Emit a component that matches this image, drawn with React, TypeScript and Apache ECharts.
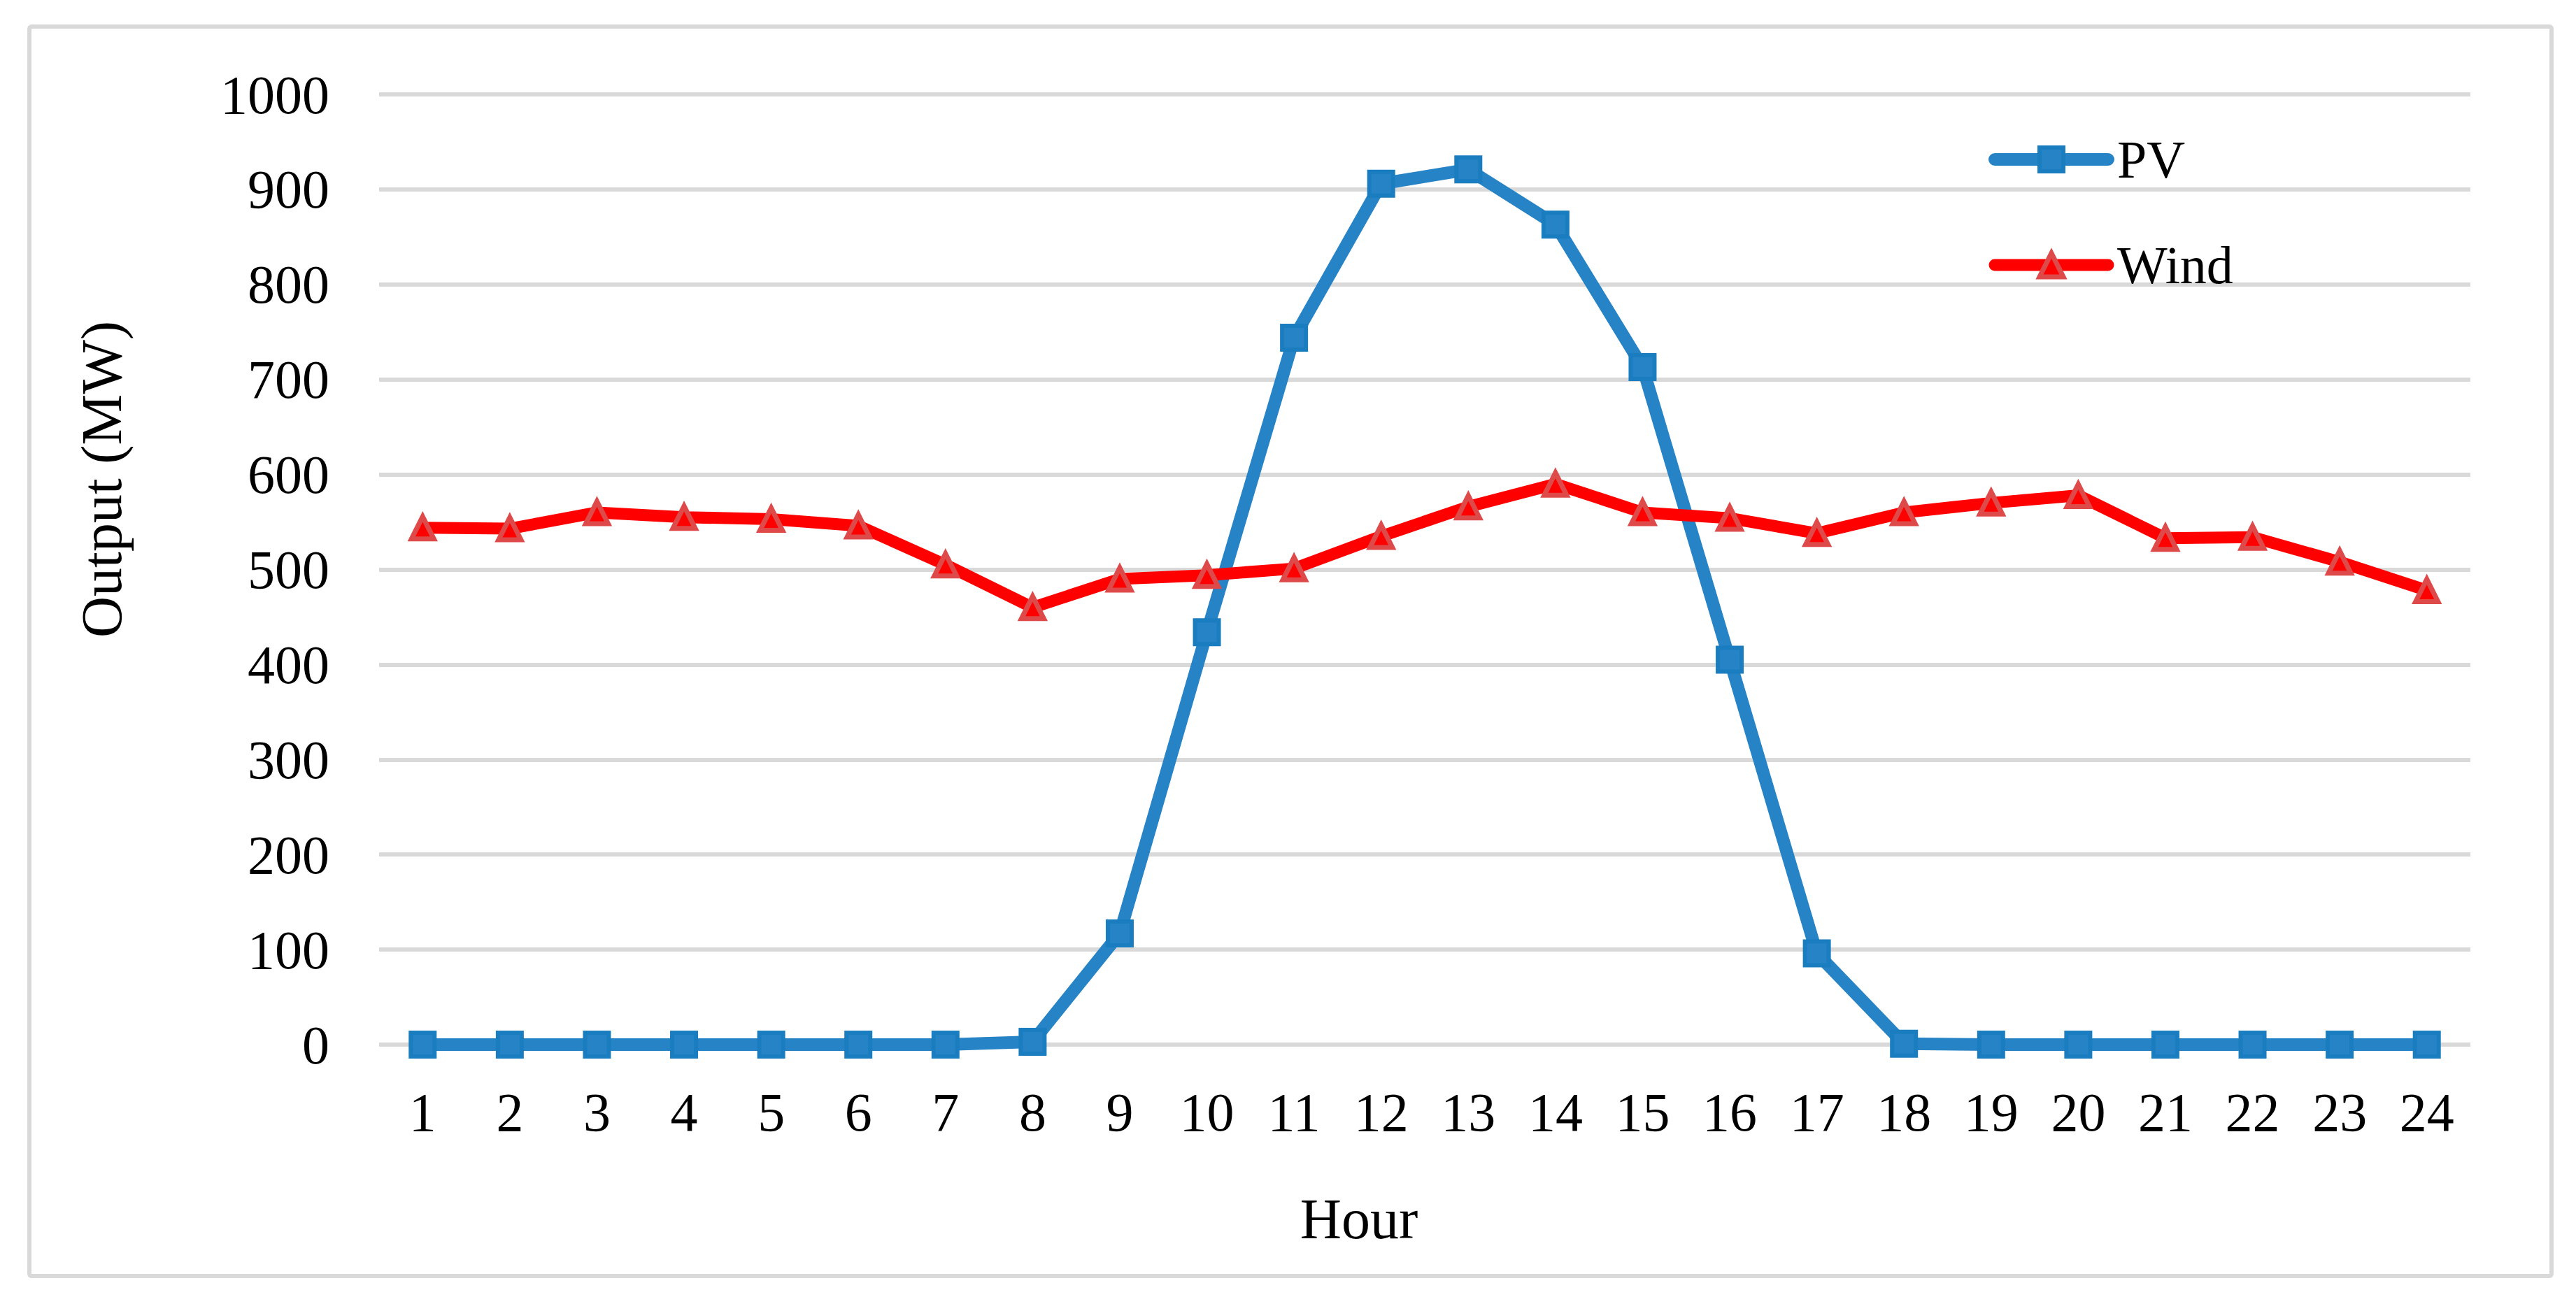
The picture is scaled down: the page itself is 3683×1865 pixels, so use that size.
import React, { useEffect, useRef } from "react";
import * as echarts from "echarts";

const hours = ["1", "2", "3", "4", "5", "6", "7", "8", "9", "10", "11", "12", "13", "14", "15", "16", "17", "18", "19", "20", "21", "22", "23", "24"];
const pvOutput = [0, 0, 0, 0, 0, 0, 0, 3, 117, 434, 744, 906, 921, 863, 713, 405, 96, 1, 0, 0, 0, 0, 0, 0];
const windOutput = [544, 543, 560, 555, 553, 546, 505, 460, 490, 494, 501, 535, 566, 590, 560, 554, 538, 560, 570, 578, 533, 534, 508, 478];
const yMin = 0;
const yMax = 1000;
const yInterval = 100;
const seriesNames = ["PV", "Wind"];

const FONT = "'Liberation Serif', 'Times New Roman', serif";

export default function App() {
  const ref = useRef<HTMLDivElement>(null);

  useEffect(() => {
    if (!ref.current) return;
    const chart = echarts.init(ref.current, undefined, { renderer: "svg" });
    const option: any = {
      animation: false,
      backgroundColor: "#ffffff",
      textStyle: { fontFamily: FONT, color: "#000000" },
      grid: { left: 542, right: 151, top: 135, bottom: 371, containLabel: false },
      graphic: [
        {
          type: "rect",
          silent: true,
          shape: { x: 42, y: 38, width: 3606, height: 1787, r: 3 },
          style: { fill: "none", stroke: "#d9d9d9", lineWidth: 6 },
        },
      ],
      legend: {
        orient: "vertical",
        left: 2838,
        top: 185,
        itemWidth: 162,
        itemHeight: 42.5,
        itemGap: 75,
        data: [
          { name: seriesNames[0], lineStyle: { width: 18, cap: "round", color: "#2683c6" }, itemStyle: { borderWidth: 6 } },
          { name: seriesNames[1], lineStyle: { width: 17, cap: "round", color: "#ff0000" }, itemStyle: { borderWidth: 7 } },
        ],
        textStyle: { fontFamily: FONT, fontSize: 76, color: "#000000", padding: [0, 0, 0, 8] },
        lineStyle: { width: 18, cap: "round" },
      },
      xAxis: {
        type: "category",
        data: hours,
        boundaryGap: true,
        axisLine: { show: false },
        axisTick: { show: false },
        axisLabel: { fontFamily: FONT, fontSize: 78, color: "#000000", margin: 57, interval: 0 },
        name: "Hour",
        nameLocation: "middle",
        nameGap: 208,
        nameTextStyle: { fontFamily: FONT, fontSize: 82, color: "#000000", padding: [0, 188, 0, 0] },
      },
      yAxis: {
        type: "value",
        min: yMin,
        max: yMax,
        interval: yInterval,
        axisLine: { show: false },
        axisTick: { show: false },
        axisLabel: {
          fontFamily: FONT,
          fontSize: 78,
          color: "#000000",
          margin: 71,
          formatter: (v: number) => String(v),
        },
        splitLine: { show: true, lineStyle: { color: "#d9d9d9", width: 6 } },
        name: "Output (MW)",
        nameLocation: "middle",
        nameRotate: 90,
        nameGap: 356,
        nameTextStyle: { fontFamily: FONT, fontSize: 82, color: "#000000", padding: [0, 0, 0, 258] },
      },
      series: [
        {
          name: seriesNames[0],
          type: "line",
          data: pvOutput,
          symbol: "rect",
          symbolSize: 34,
          lineStyle: { color: "#2683c6", width: 18, cap: "round", join: "round" },
          itemStyle: { color: "#2683c6", borderColor: "#1a7dbf", borderWidth: 6 },
          z: 2,
        },
        {
          name: seriesNames[1],
          type: "line",
          data: windOutput,
          symbol: "triangle",
          symbolSize: 32,
          lineStyle: { color: "#ff0000", width: 17, cap: "round", join: "round" },
          itemStyle: { color: "#ff0000", borderColor: "#de4a4a", borderWidth: 7 },
          z: 3,
        },
      ],
    };
    chart.setOption(option);
    return () => chart.dispose();
  }, []);

  return (
    <div
      ref={ref}
      style={{ position: "absolute", left: 0, top: 0, width: 3683, height: 1865, background: "#ffffff" }}
    />
  );
}
